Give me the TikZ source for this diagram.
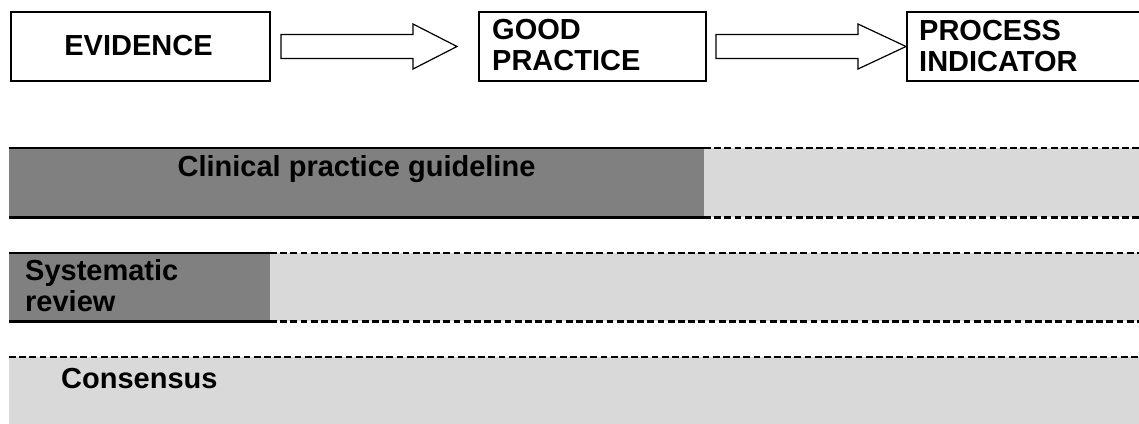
\documentclass[tikz,border=0pt]{standalone}
\usepackage{fontspec}
\setmainfont{Liberation Sans}
\usetikzlibrary{calc}
\definecolor{darkband}{HTML}{808080}
\definecolor{lightband}{HTML}{D9D9D9}
\tikzset{
  lbl/.style={font=\bfseries\fontsize{29}{31}\selectfont, inner sep=0pt, text=black},
  topbox/.style={draw=black, line width=2pt, fill=white, inner sep=0pt, anchor=north west},
  blockarrow/.style={draw=black, line width=1.2pt, fill=white, line join=miter},
  bandfill/.style={draw=none, inner sep=0pt, anchor=north west},
  bandline/.style={line width=2.4pt, line cap=butt},
  banddash/.style={line width=2.6pt, line cap=butt, dash pattern=on 6.8pt off 3.4pt},
}
\newcommand\myblockarrow[3]{% start, tip, head length
  \draw[blockarrow] ($(#1)+(0,-12)$) -- ($(#2)+(-#3,-12)$) -- ($(#2)+(-#3,-22.5)$) -- (#2)
    -- ($(#2)+(-#3,22.5)$) -- ($(#2)+(-#3,12)$) -- ($(#1)+(0,12)$) -- cycle;}
\begin{document}
\begin{tikzpicture}[x=1pt, y={(0pt,-1pt)}]
\useasboundingbox (0,0) rectangle (1139,423);
\clip (0,0) rectangle (1139,423);
% top row
\node[topbox, minimum width=259pt, minimum height=69pt] (ev) at (10,11) {};
\node[topbox, minimum width=227pt, minimum height=69pt] (gp) at (478,11) {};
\node[topbox, minimum width=250pt, minimum height=69pt] (pi) at (906,11) {};
\node[lbl, anchor=base] (evt) at (138.5,55) {EVIDENCE};
\node[lbl, anchor=base west, align=left] (gpt) at (492,70) {GOOD\\PRACTICE};
\node[lbl, anchor=base west, align=left] (pit) at (919,71) {PROCESS\\INDICATOR};
\coordinate (a1s) at ($(ev.east)+(10,0)$);
\coordinate (a1e) at ($(gp.west)+(-21,0)$);
\coordinate (a2s) at ($(gp.east)+(9,0)$);
\coordinate (a2e) at (pi.west);
\myblockarrow{a1s}{a1e}{44}
\myblockarrow{a2s}{a2e}{48}
% band 1
\node[bandfill, fill=darkband, minimum width=695pt, minimum height=69pt] (cpgd) at (9,148) {};
\node[bandfill, fill=lightband, minimum width=440pt, minimum height=69pt] (cpgl) at (704,148) {};
\draw[bandline] (cpgd.north west) -- (cpgd.north east);
\draw[bandline] (cpgd.south west) -- (cpgd.south east);
\draw[banddash] (cpgl.north west) -- (cpgl.north east);
\draw[banddash] (cpgl.south west) -- (cpgl.south east);
\node[lbl, anchor=base] (cpgt) at (356.5,176) {Clinical practice guideline};
% band 2
\node[bandfill, fill=darkband, minimum width=261pt, minimum height=68pt] (srd) at (9,253) {};
\node[bandfill, fill=lightband, minimum width=874pt, minimum height=68pt] (srl) at (270,253) {};
\draw[bandline] (srd.north west) -- (srd.north east);
\draw[bandline] (srd.south west) -- (srd.south east);
\draw[banddash] (srl.north west) -- (srl.north east);
\draw[banddash] (srl.south west) -- (srl.south east);
\node[lbl, anchor=base west, align=left] (srt) at (25,311) {Systematic\\review};
% band 3
\node[bandfill, fill=lightband, minimum width=1135pt, minimum height=70pt] (cnl) at (9,357) {};
\draw[banddash] (cnl.north west) -- (cnl.north east);
\node[lbl, anchor=base west] (cnt) at (61,388) {Consensus};
\end{tikzpicture}
\end{document}
